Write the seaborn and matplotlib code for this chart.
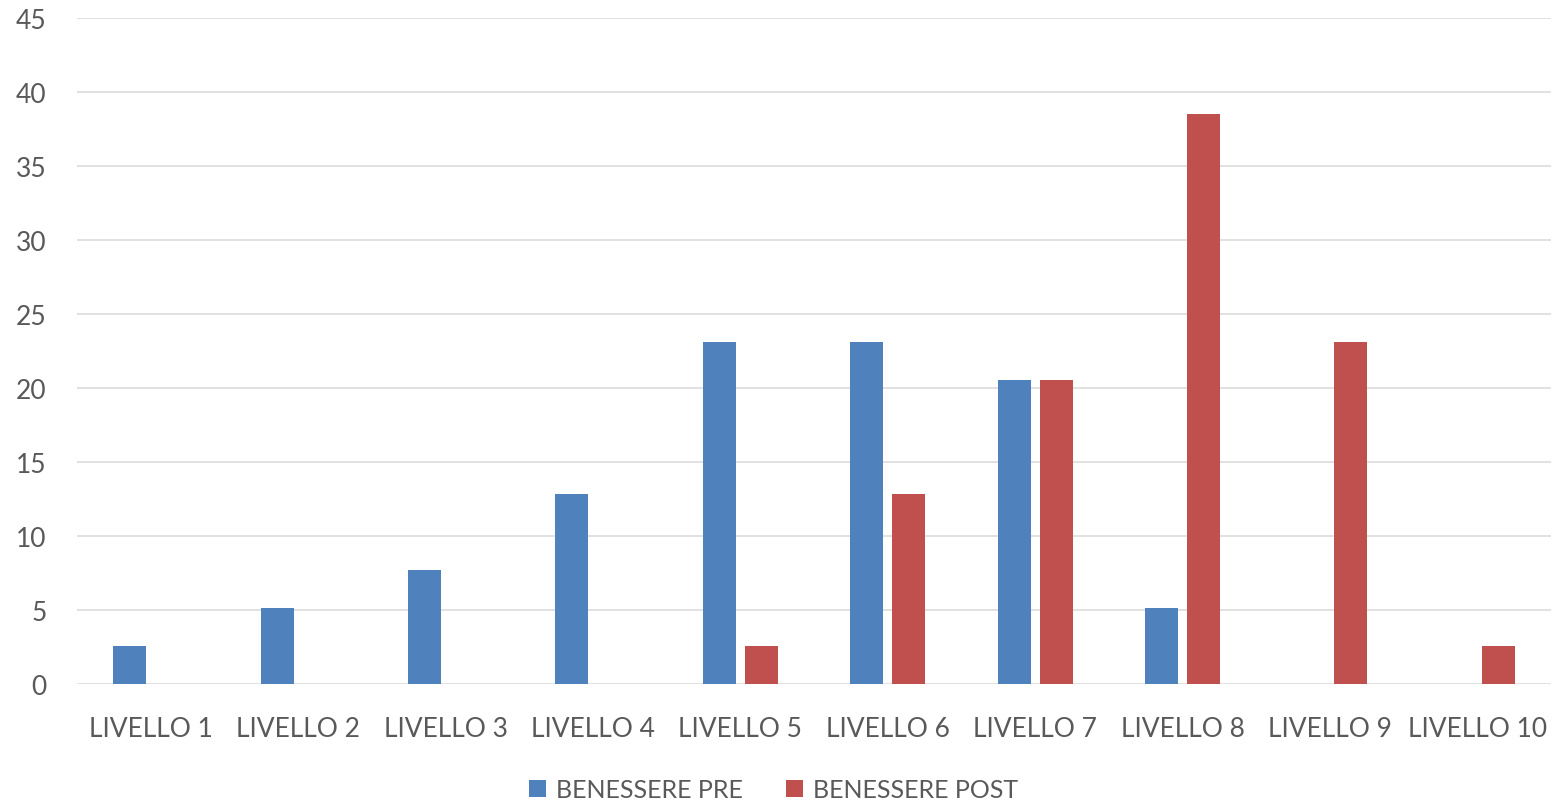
import matplotlib
matplotlib.use("Agg")
import matplotlib.pyplot as plt
import seaborn as sns
import pandas as pd
from matplotlib.patches import Patch

categories = ["LIVELLO 1", "LIVELLO 2", "LIVELLO 3", "LIVELLO 4", "LIVELLO 5",
              "LIVELLO 6", "LIVELLO 7", "LIVELLO 8", "LIVELLO 9", "LIVELLO 10"]
pre_values = [2.56, 5.13, 7.69, 12.82, 23.08, 23.08, 20.51, 5.13, 0, 0]
post_values = [0, 0, 0, 0, 2.56, 12.82, 20.51, 38.46, 23.08, 2.56]
series_names = ["BENESSERE PRE", "BENESSERE POST"]
colors = ["#4F81BD", "#C0504D"]
y_ticks = [0, 5, 10, 15, 20, 25, 30, 35, 40, 45]

df = pd.DataFrame({
    "cat": categories * 2,
    "val": pre_values + post_values,
    "serie": [series_names[0]] * len(categories) + [series_names[1]] * len(categories),
})

sns.set_theme(style="white")
plt.rcParams["font.family"] = ["Lato", "DejaVu Sans"]

fig = plt.figure(figsize=(15.52, 8.03), dpi=100)
ax = fig.add_axes([77 / 1552, (803 - 684.7) / 803, (1551 - 77) / 1552, (684.7 - 18.7) / 803])

sns.barplot(data=df, x="cat", y="val", hue="serie", order=categories,
            hue_order=series_names, palette=colors, width=0.570, gap=0.214,
            linewidth=0, saturation=1, ax=ax, legend=False)

ax.set_xlim(-0.5, len(categories) - 0.5)
ax.set_ylim(0, 45)
ax.set_yticks(y_ticks)
ax.set_yticklabels([str(t) for t in y_ticks])
ax.set_xlabel("")
ax.set_ylabel("")
for s in ax.spines.values():
    s.set_visible(False)
ax.set_axisbelow(True)
ax.yaxis.grid(True, color="#D9D9D9", linewidth=1.1)
ax.xaxis.grid(False)
ax.tick_params(axis="both", length=0, labelsize=19, colors="#595959")
ax.tick_params(axis="y", pad=22)
ax.tick_params(axis="x", pad=23)

handles = [Patch(facecolor=c, edgecolor="none", label=n) for c, n in zip(colors, series_names)]
fig.legend(handles=handles, loc="center", bbox_to_anchor=(0.4985, 12 / 803), ncol=2,
           frameon=False, fontsize=18, handlelength=0.68, handleheight=0.68,
           handletextpad=0.42, columnspacing=1.7, labelcolor="#595959")

fig.savefig("out.png", dpi=100)
